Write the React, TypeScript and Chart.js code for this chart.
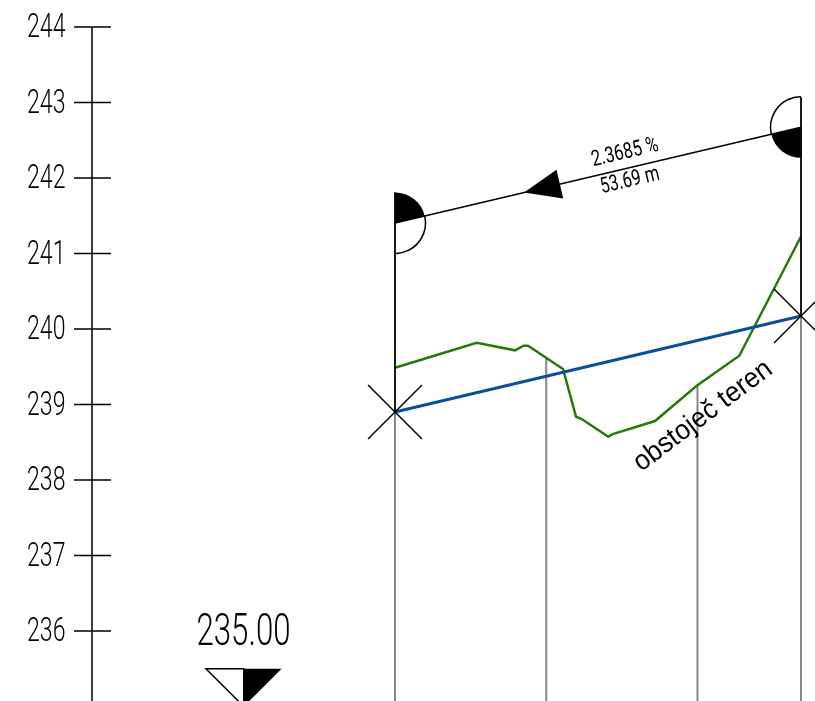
import React, { useEffect, useRef } from "react";
import { Chart, registerables } from "chart.js";

Chart.register(...registerables);

const yTicks = [244, 243, 242, 241, 240, 239, 238, 237, 236];
const yTickLabels = ["244", "243", "242", "241", "240", "239", "238", "237", "236"];
const axisStation = -40.07;
const tickLeft = -42.45;
const tickRight = -37.56;

const terrainStations = [0, 10.8, 15.87, 16.99, 17.59, 22.22, 23.94, 24.69, 28.21, 28.79, 34.38, 39.9, 45.53, 53.69];
const terrainLevels = [239.487, 239.819, 239.718, 239.779, 239.779, 239.47, 238.838, 238.808, 238.574, 238.609, 238.781, 239.249, 239.646, 241.225];

const pipeStations = [0, 53.69];
const pipeLevels = [238.901, 240.172];
const flagLevels = [241.405, 242.672];

const dropStations = [0, 20, 40, 53.69];
const dropTops = [238.901, 239.616, 239.25, 240.172];
const datumLevel = 235;
const datumLabel = "235.00";
const datumStations = [-25, -20, -15];
const datumTop = 235.5;

const arrowStations = [17.06, 21.8];
const slopeLabel = "2.3685 %";
const lengthLabel = "53.69 m";
const terrainLabel = "obstoječ teren";

const X_MIN = -52.235, X_MAX = 55.54, Y_MIN = 235.073, Y_MAX = 244.358;
const THIN = "Roboto";

const seg = (x0: number, y0: number, x1: number, y1: number, color: string, w: number, order: number) => ({
  data: [{ x: x0, y: y0 }, { x: x1, y: y1 }],
  borderColor: color, borderWidth: w, pointRadius: 0, showLine: true, order,
});

const fitText = (ctx: any, t: string, cx: number, cy: number, w: number, font: string, ang: number, color = "#000") => {
  ctx.save();
  ctx.font = font;
  ctx.fillStyle = color;
  ctx.textAlign = "center";
  ctx.textBaseline = "middle";
  const m = ctx.measureText(t).width;
  ctx.translate(cx, cy);
  ctx.rotate(ang);
  ctx.scale(w / m, 1);
  ctx.fillText(t, 0, 0);
  ctx.restore();
};

const drawing = {
  id: "drawing",
  afterDatasetsDraw(chart: any) {
    const { ctx } = chart;
    const X = (v: number) => chart.scales.x.getPixelForValue(v);
    const Y = (v: number) => chart.scales.y.getPixelForValue(v);
    const R = 30.5;
    const lx = X(pipeStations[0]), rx = X(pipeStations[1]);
    const ly = Y(flagLevels[0]), ry = Y(flagLevels[1]);
    const th = Math.atan2(ry - ly, rx - lx);

    ctx.save();
    ctx.beginPath();
    ctx.rect(0, 0, chart.width, chart.height);
    ctx.clip();
    ctx.strokeStyle = "#000";
    ctx.fillStyle = "#000";
    ctx.lineWidth = 1.5;

    // level flags
    ctx.beginPath(); ctx.moveTo(lx, ly); ctx.arc(lx, ly, R, -Math.PI / 2, th); ctx.closePath(); ctx.fill();
    ctx.beginPath(); ctx.arc(lx, ly, R, th, Math.PI / 2); ctx.stroke();
    ctx.beginPath(); ctx.moveTo(rx, ry); ctx.arc(rx, ry, R, Math.PI / 2, Math.PI + th); ctx.closePath(); ctx.fill();
    ctx.beginPath(); ctx.arc(rx, ry, R, Math.PI + th, Math.PI * 1.5); ctx.stroke();

    // flow arrow
    const slope = (s: number) => flagLevels[0] + ((flagLevels[1] - flagLevels[0]) * s) / pipeStations[1];
    const tx = X(arrowStations[0]), ty = Y(slope(arrowStations[0]));
    const bx = X(arrowStations[1]), by = Y(slope(arrowStations[1]));
    const hw = 14.7;
    ctx.beginPath();
    ctx.moveTo(tx, ty);
    ctx.lineTo(bx + Math.sin(th) * hw, by - Math.cos(th) * hw);
    ctx.lineTo(bx - Math.sin(th) * hw, by + Math.cos(th) * hw);
    ctx.closePath();
    ctx.fill();

    // datum triangle
    const [d0, d1, d2] = datumStations.map(X);
    const dt = Y(datumTop), da = Y(datumLevel);
    ctx.beginPath(); ctx.moveTo(d1, dt); ctx.lineTo(d2, dt); ctx.lineTo(d1, da); ctx.closePath(); ctx.fill();
    ctx.beginPath(); ctx.moveTo(d1, dt); ctx.lineTo(d0, dt); ctx.lineTo(d1, da); ctx.closePath(); ctx.stroke();
    ctx.restore();

    // tick labels
    const axX = X(axisStation);
    ctx.save();
    ctx.font = `300 33px ${THIN}`;
    ctx.fillStyle = "#000";
    ctx.textAlign = "right";
    ctx.textBaseline = "middle";
    yTicks.forEach((v, i) => {
      ctx.save();
      ctx.translate(axX - 26.5, Y(v) + 2);
      ctx.scale(0.7, 1);
      ctx.fillText(yTickLabels[i], 0, 0);
      ctx.restore();
    });
    ctx.restore();

    fitText(ctx, datumLabel, 243.5, 633.5, 94, `300 45px ${THIN}`, 0);
    fitText(ctx, slopeLabel, 625, 153, 68, `400 22px ${THIN}`, th);
    fitText(ctx, lengthLabel, 630, 181, 60, `400 22px ${THIN}`, th);
    fitText(ctx, terrainLabel, 703, 416, 166, `28px "Liberation Sans"`, -0.644);
  },
};

export default function App() {
  const ref = useRef<HTMLCanvasElement | null>(null);
  useEffect(() => {
    document.body.style.margin = "0";
    const cdx = 3.57, cdy = 0.358;
    const datasets: any[] = [
      { label: "obstoječ teren", data: terrainStations.map((x, i) => ({ x, y: terrainLevels[i] })), borderColor: "#267a0a", borderWidth: 2.5, pointRadius: 0, showLine: true, order: 3, tension: 0 },
      { label: "niveleta", data: pipeStations.map((x, i) => ({ x, y: pipeLevels[i] })), borderColor: "#0a4f9e", borderWidth: 3, pointRadius: 0, showLine: true, order: 2 },
      seg(pipeStations[0], flagLevels[0], pipeStations[1], flagLevels[1], "#000", 1.5, 1),
      seg(axisStation, yTicks[0], axisStation, Y_MIN, "#000", 1.5, 1),
      ...yTicks.map((v) => seg(tickLeft, v, tickRight, v, "#000", 1.5, 1)),
      ...dropStations.map((s, i) => seg(s, dropTops[i], s, Y_MIN, "#888", 2, 5)),
      seg(pipeStations[0], pipeLevels[0], pipeStations[0], 241.81, "#000", 1.8, 1),
      seg(pipeStations[1], pipeLevels[1], pipeStations[1], 243.07, "#000", 1.8, 1),
      ...pipeStations.flatMap((s, i) => [
        seg(s - cdx, pipeLevels[i] + cdy, s + cdx, pipeLevels[i] - cdy, "#000", 1.5, 1),
        seg(s - cdx, pipeLevels[i] - cdy, s + cdx, pipeLevels[i] + cdy, "#000", 1.5, 1),
      ]),
    ];
    const chart = new Chart(ref.current!, {
      type: "scatter",
      data: { datasets },
      plugins: [drawing],
      options: {
        animation: false,
        responsive: false,
        layout: { padding: 0 },
        plugins: { legend: { display: false }, tooltip: { enabled: false } },
        scales: {
          x: { type: "linear", min: X_MIN, max: X_MAX, display: false },
          y: { type: "linear", min: Y_MIN, max: Y_MAX, display: false },
        },
      },
    } as any);
    return () => chart.destroy();
  }, []);
  return <canvas ref={ref} width={815} height={701} style={{ display: "block", background: "#fff" }} />;
}
